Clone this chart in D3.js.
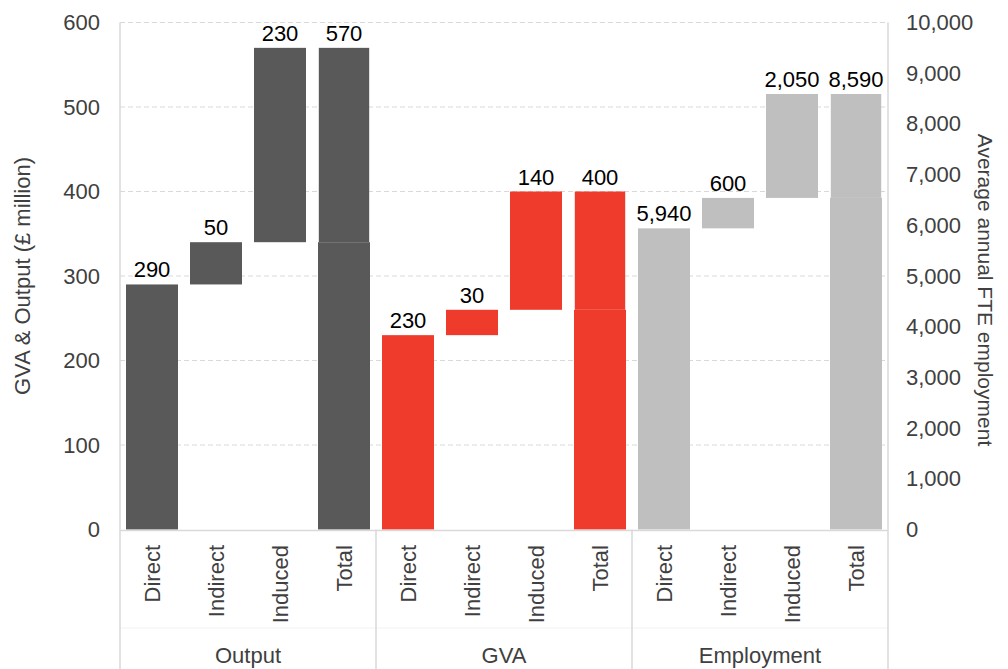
<!DOCTYPE html>
<html>
<head>
<meta charset="utf-8">
<script src="https://cdn.jsdelivr.net/npm/d3@7"></script>
<style>
  html, body { margin: 0; padding: 0; background: #fff; }
  svg { display: block; font-family: "Liberation Sans", Arial, sans-serif; }
</style>
</head>
<body>
<svg id="chart" width="1008" height="669"></svg>
<script>
// Economic impact breakdown: three waterfalls sharing one category axis
const groups = ["Output", "GVA", "Employment"];
const steps = ["Direct", "Indirect", "Induced", "Total"];
const outputValues = [290, 50, 230, 570];          // £ million
const gvaValues = [230, 30, 140, 400];             // £ million
const employmentValues = [5940, 600, 2050, 8590];  // FTE
const leftTicks = [0, 100, 200, 300, 400, 500, 600];
const rightTicks = [0, 1000, 2000, 3000, 4000, 5000, 6000, 7000, 8000, 9000, 10000];

const groupColors = { Output: "#595959", GVA: "#ef3b2c", Employment: "#bfbfbf" };
const groupValues = { Output: outputValues, GVA: gvaValues, Employment: employmentValues };

const svg = d3.select("#chart");
const plot = { left: 120, right: 888, top: 22.5, bottom: 529.5 };

// one band per (group, step)
const keys = [];
groups.forEach(g => steps.forEach(s => keys.push(g + "|" + s)));

const x = d3.scaleBand()
  .domain(keys)
  .range([plot.left, plot.right])
  .paddingInner(0.1875)
  .paddingOuter(0.09375);

const yLeft = d3.scaleLinear().domain([0, 600]).range([plot.bottom, plot.top]);
const yRight = d3.scaleLinear().domain([0, 10000]).range([plot.bottom, plot.top]);

// waterfall segments: running base for the steps; each total is stacked
// from the direct+indirect part and the induced part
const bars = [];
const labels = [];
groups.forEach(g => {
  const vals = groupValues[g];
  const scale = g === "Employment" ? yRight : yLeft;
  let base = 0;
  steps.forEach((s, i) => {
    const v = vals[i];
    if (s === "Total") {
      const split = vals[0] + vals[1];
      bars.push({ g, s, y0: 0, y1: split, scale, inset: 0 });
      bars.push({ g, s, y0: split, y1: v, scale, inset: 0.8 });
      labels.push({ g, s, top: v, label: v, scale });
    } else {
      bars.push({ g, s, y0: base, y1: base + v, scale, inset: 0 });
      labels.push({ g, s, top: base + v, label: v, scale });
      base += v;
    }
  });
});

// gridlines
svg.append("g")
  .selectAll("line")
  .data(leftTicks.filter(d => d > 0))
  .join("line")
  .attr("x1", plot.left).attr("x2", plot.right)
  .attr("y1", d => yLeft(d)).attr("y2", d => yLeft(d))
  .attr("stroke", "#d9d9d9")
  .attr("stroke-width", 1.2)
  .attr("stroke-dasharray", "5,3");

// plot side borders
svg.append("line")
  .attr("x1", plot.left).attr("x2", plot.left)
  .attr("y1", plot.top).attr("y2", plot.bottom)
  .attr("stroke", "#d9d9d9").attr("stroke-width", 1.5);
svg.append("line")
  .attr("x1", plot.right).attr("x2", plot.right)
  .attr("y1", plot.top).attr("y2", plot.bottom)
  .attr("stroke", "#d9d9d9").attr("stroke-width", 1.5);

// bars
svg.append("g")
  .selectAll("rect")
  .data(bars)
  .join("rect")
  .attr("x", d => x(d.g + "|" + d.s) + d.inset)
  .attr("width", d => x.bandwidth() - 2 * d.inset)
  .attr("y", d => d.scale(d.y1))
  .attr("height", d => d.scale(d.y0) - d.scale(d.y1))
  .attr("fill", d => groupColors[d.g]);

// value labels
const fmt = d3.format(",");
svg.append("g")
  .selectAll("text")
  .data(labels)
  .join("text")
  .attr("x", d => x(d.g + "|" + d.s) + x.bandwidth() / 2)
  .attr("y", d => d.scale(d.top) - 7)
  .attr("text-anchor", "middle")
  .attr("font-size", 22)
  .attr("fill", "#000")
  .text(d => fmt(d.label));

// left axis
const leftAxis = svg.append("g")
  .attr("transform", `translate(${plot.left},0)`)
  .call(d3.axisLeft(yLeft).tickValues(leftTicks).tickSize(0).tickPadding(20));
leftAxis.select(".domain").remove();
leftAxis.selectAll("text")
  .attr("font-size", 22).attr("fill", "#404040")
  .attr("font-family", "Liberation Sans, Arial, sans-serif");

// right axis
const rightAxis = svg.append("g")
  .attr("transform", `translate(${plot.right},0)`)
  .call(d3.axisRight(yRight).tickValues(rightTicks).tickSize(0).tickPadding(18).tickFormat(fmt));
rightAxis.select(".domain").remove();
rightAxis.selectAll("text")
  .attr("font-size", 22).attr("fill", "#404040")
  .attr("font-family", "Liberation Sans, Arial, sans-serif");

// axis titles
svg.append("text")
  .attr("transform", `translate(30,${(plot.top + plot.bottom) / 2}) rotate(-90)`)
  .attr("text-anchor", "middle")
  .attr("font-size", 22)
  .attr("fill", "#404040")
  .text("GVA & Output (£ million)");
svg.append("text")
  .attr("transform", `translate(978,290) rotate(90)`)
  .attr("text-anchor", "middle")
  .attr("font-size", 21)
  .attr("fill", "#404040")
  .text("Average annual FTE employment");

// category axis: baseline, group separators, step and group labels
const axisG = svg.append("g");
axisG.append("line")
  .attr("x1", plot.left).attr("x2", plot.right)
  .attr("y1", plot.bottom + 1).attr("y2", plot.bottom + 1)
  .attr("stroke", "#d9d9d9").attr("stroke-width", 1.5);
axisG.append("line")
  .attr("x1", plot.left).attr("x2", plot.right)
  .attr("y1", 628).attr("y2", 628)
  .attr("stroke", "#f2f2f2").attr("stroke-width", 1);

const halfGap = (x.step() - x.bandwidth()) / 2;
const bounds = groups.map(g => ({
  g,
  x0: x(g + "|" + steps[0]) - halfGap,
  x1: x(g + "|" + steps[steps.length - 1]) + x.bandwidth() + halfGap
}));
const sepX = [bounds[0].x0].concat(bounds.map(b => b.x1));
axisG.selectAll("line.sep")
  .data(sepX)
  .join("line")
  .attr("class", "sep")
  .attr("x1", d => d).attr("x2", d => d)
  .attr("y1", plot.bottom).attr("y2", 669)
  .attr("stroke", "#d9d9d9").attr("stroke-width", 1.5);

axisG.selectAll("text.step")
  .data(keys)
  .join("text")
  .attr("class", "step")
  .attr("transform", d => `translate(${x(d) + x.bandwidth() / 2 + 8},545) rotate(-90)`)
  .attr("text-anchor", "end")
  .attr("font-size", 22)
  .attr("fill", "#404040")
  .text(d => d.split("|")[1]);

axisG.selectAll("text.group")
  .data(bounds)
  .join("text")
  .attr("class", "group")
  .attr("x", d => (d.x0 + d.x1) / 2)
  .attr("y", 663)
  .attr("text-anchor", "middle")
  .attr("font-size", 22)
  .attr("fill", "#404040")
  .text(d => d.g);
</script>
</body>
</html>
